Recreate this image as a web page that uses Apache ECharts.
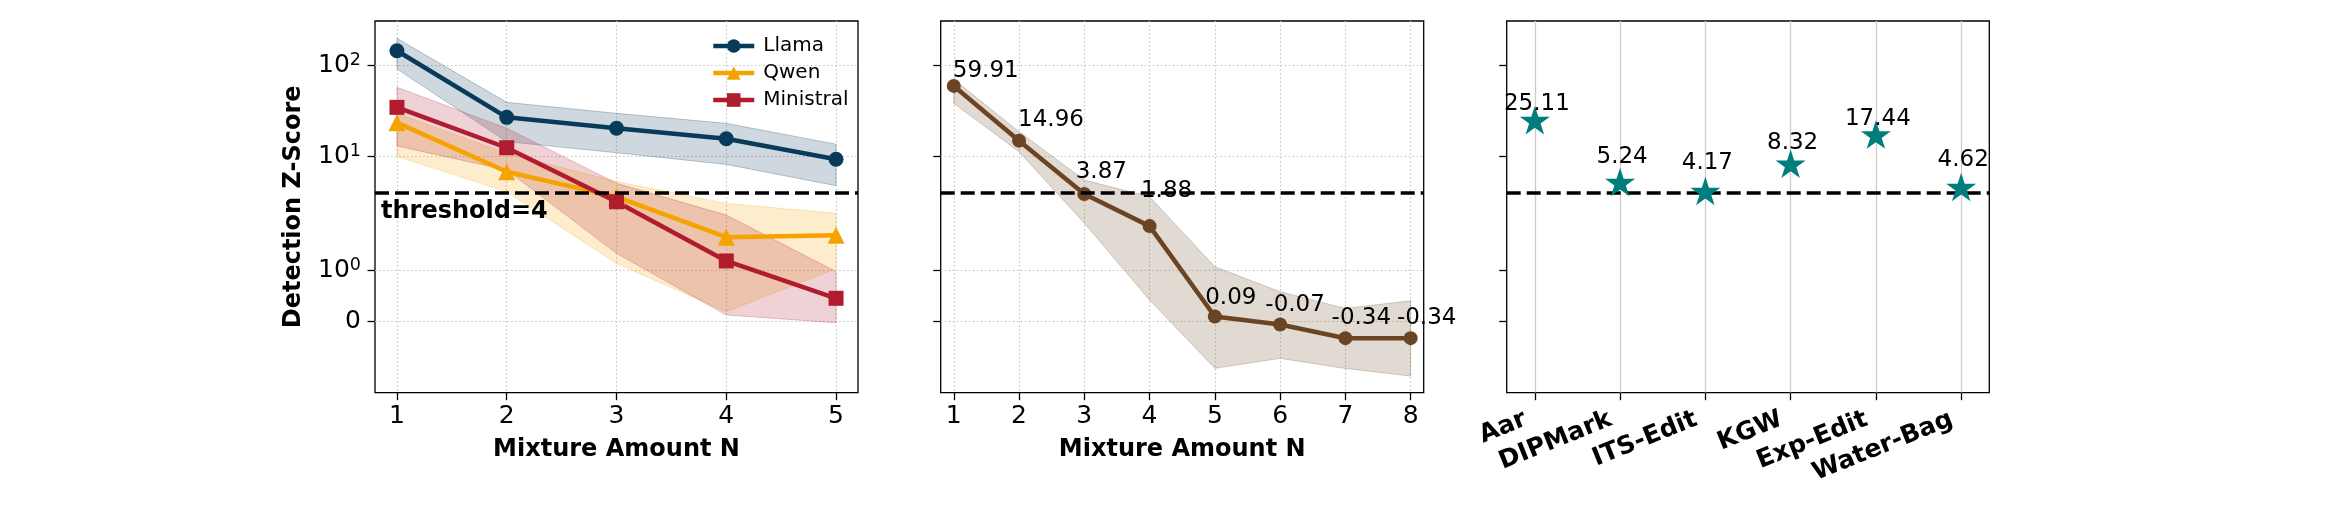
<!DOCTYPE html>
<html><head><meta charset="utf-8">
<script src="https://cdn.jsdelivr.net/npm/echarts@6/dist/echarts.min.js"></script>
<style>html,body{margin:0;padding:0;background:#fff}#c{width:2330px;height:510px}</style>
</head><body><div id="c"></div>
<script>
// ---------- data ----------
const mixtureN1 = [1, 2, 3, 4, 5];
const llama      = [146, 27.0, 20.5, 15.7, 9.33];
const llamaLo    = [91.8, 14.6, 11.0, 8.2, 4.78];
const llamaHi    = [200, 39.5, 29.9, 23.2, 13.7];
const qwen       = [23.6, 6.81, 3.6, 1.66, 1.70];
const qwenLo     = [10.1, 4.1, 1.14, 0.184, 1.04];
const qwenHi     = [29.9, 10.8, 5.3, 3.05, 2.37];
const ministral  = [34.8, 12.5, 3.18, 1.19, 0.45];
const ministralLo= [13.1, 7.1, 1.34, 0.119, -0.034];
const ministralHi= [57.8, 20.5, 5.07, 2.27, 0.98];

const mixtureN2 = [1, 2, 3, 4, 5, 6, 7, 8];
const mixScore  = [59.91, 14.96, 3.87, 1.88, 0.09, -0.07, -0.34, -0.34];
const mixLo     = [38.5, 11.3, 1.94, 0.416, -0.937, -0.74, -0.94, -1.09];
const mixHi     = [70.8, 18.8, 5.52, 3.61, 1.076, 0.58, 0.25, 0.40];

const methods      = ['Aar', 'DIPMark', 'ITS-Edit', 'KGW', 'Exp-Edit', 'Water-Bag'];
const methodScores = [25.11, 5.24, 4.17, 8.32, 17.44, 4.62];

const yTickValues = [0, 1, 10, 100];
const yTickLabels = ['{b|0}', '{b|10}{s|0}', '{b|10}{s|1}', '{b|10}{s|2}'];
const threshold = 4;

// ---------- layout (not data) ----------
const mixLabelShift = [[32, 6.7], [32, 12.4], [17, 14.3], [17, 27.4], [16, 10.7], [15, 11.7], [16, 11.7], [16, 11.7]];
const starLabelLift = [10, 18.7, 21.7, 14.7, 9, 21];

// symlog transform (linthresh 2, linscale 1, base 10)
function symlog(v) {
  const c = 2, a = 1 / (1 - 1 / 10), av = Math.abs(v);
  if (av <= c) return v * a;
  return Math.sign(v) * c * (a + Math.log10(av / c));
}
const Y_MIN = -1.578, Y_MAX = 6.604;
const FONT = 'DejaVu Sans';

const C_LLAMA = '#083a5a', C_QWEN = '#f5a300', C_MIN = '#b01c2e', C_MIX = '#6b4423', C_STAR = '#007d7d';

function rgba(hex, a) {
  const n = parseInt(hex.slice(1), 16);
  return `rgba(${(n >> 16) & 255},${(n >> 8) & 255},${n & 255},${a})`;
}

const GT = 21, GH = 371.7;
const grids = [
  { left: 375, top: GT, width: 483, height: GH },
  { left: 940.7, top: GT, width: 483, height: GH },
  { left: 1506.7, top: GT, width: 482.6, height: GH }
].map(g => Object.assign(g, { show: true, borderColor: '#000', borderWidth: 1.3, backgroundColor: 'transparent', containLabel: false, outerBoundsMode: 'none' }));

const tickStyle = { show: true, length: 7.5, lineStyle: { color: '#000', width: 1.3 } };
const dotted = { show: true, lineStyle: { color: '#c4c4c4', width: 1.2, type: [1.5, 2.5] } };

function yAxisCfg(gi, showLabels, showSplit) {
  const tv = yTickValues.map(symlog);
  return {
    type: 'value', gridIndex: gi, min: Y_MIN, max: Y_MAX,
    axisLine: { show: false, onZero: false },
    axisTick: Object.assign({ customValues: tv }, tickStyle),
    splitLine: showSplit ? dotted : { show: false },
    axisLabel: {
      show: showLabels, customValues: tv, margin: 14,
      formatter: (val) => {
        let bi = 0, bd = Infinity;
        tv.forEach((t, i) => { const d = Math.abs(t - val); if (d < bd) { bd = d; bi = i; } });
        return yTickLabels[bi];
      },
      rich: {
        b: { fontSize: 25, fontFamily: FONT, color: '#000', lineHeight: 28 },
        s: { fontSize: 17.5, fontFamily: FONT, color: '#000', lineHeight: 28, verticalAlign: 'top' }
      }
    },
    name: gi === 0 ? 'Detection Z-Score' : '',
    nameLocation: 'middle', nameGap: 69,
    nameTextStyle: { fontSize: 24, fontWeight: 'bold', fontFamily: FONT, color: '#000' }
  };
}

function xAxisNum(gi, min, max, ticks) {
  return {
    type: 'value', gridIndex: gi, min: min, max: max, position: 'bottom',
    axisLine: { show: false, onZero: false },
    axisTick: Object.assign({ customValues: ticks }, tickStyle),
    axisLabel: { customValues: ticks, margin: 11, fontSize: 25, fontFamily: FONT, color: '#000' },
    splitLine: dotted,
    name: 'Mixture Amount N', nameLocation: 'middle', nameGap: 45,
    nameTextStyle: { fontSize: 24, fontWeight: 'bold', fontFamily: FONT, color: '#000' }
  };
}

const catIdx = methods.map((m, i) => i);
const xAxes = [
  xAxisNum(0, 0.8, 5.2, mixtureN1),
  xAxisNum(1, 0.8, 8.2, mixtureN2),
  {
    type: 'value', gridIndex: 2, min: -0.33, max: 5.33, position: 'bottom',
    axisLine: { show: false, onZero: false },
    axisTick: Object.assign({ customValues: catIdx }, tickStyle),
    axisLabel: {
      customValues: catIdx, rotate: 22, margin: 22, padding: [0, 10, 0, 0],
      fontSize: 25, fontWeight: 'bold', fontFamily: FONT, color: '#000',
      formatter: (v) => methods[Math.round(v)]
    },
    splitLine: { show: true, lineStyle: { color: '#cccccc', width: 1.3, type: 'solid' } }
  }
];
const yAxes = [yAxisCfg(0, true, true), yAxisCfg(1, false, true), yAxisCfg(2, false, false)];

function bandSeries(xs, lo, hi, color, gi) {
  return {
    type: 'custom', xAxisIndex: gi, yAxisIndex: gi, z: 1, silent: true, clip: false,
    data: [[xs[0], symlog(hi[0])]],
    renderItem: (params, api) => {
      const pts = [];
      for (let i = 0; i < xs.length; i++) pts.push(api.coord([xs[i], symlog(hi[i])]));
      for (let i = xs.length - 1; i >= 0; i--) pts.push(api.coord([xs[i], symlog(lo[i])]));
      return { type: 'polygon', shape: { points: pts }, style: { fill: rgba(color, 0.2), stroke: rgba(color, 0.25), lineWidth: 1 } };
    }
  };
}

function lineSeries(name, xs, vals, color, symbol, size, gi) {
  return {
    name: name, type: 'line', xAxisIndex: gi, yAxisIndex: gi, z: 3,
    data: xs.map((x, i) => [x, symlog(vals[i]), vals[i]]),
    symbol: symbol, symbolSize: size, showSymbol: true,
    lineStyle: { color: color, width: 4.5 },
    itemStyle: { color: color, borderWidth: 0, opacity: 1 },
    emphasis: { disabled: true }, animation: false
  };
}

function thresholdLine(gi, withLabel, z) {
  return {
    type: 'line', xAxisIndex: gi, yAxisIndex: gi, data: [], z: z, silent: true,
    markLine: {
      silent: true, symbol: 'none', animation: false, z: z,
      lineStyle: { color: '#000', width: 3.5, type: [14, 6] },
      label: withLabel ? {
        show: true, position: 'insideStartBottom', formatter: 'threshold=4', distance: [6, 7],
        fontSize: 24, fontWeight: 'bold', fontFamily: FONT, color: '#000'
      } : { show: false },
      data: [{ yAxis: symlog(threshold) }]
    }
  };
}

const starPath = 'path://M100,0 L122.45,69.1 L195.1,69.1 L136.33,111.8 L158.8,180.9 L100,138.2 L41.2,180.9 L63.67,111.8 L4.9,69.1 L77.55,69.1 Z';

const series = [
  bandSeries(mixtureN1, llamaLo, llamaHi, C_LLAMA, 0),
  bandSeries(mixtureN1, qwenLo, qwenHi, C_QWEN, 0),
  bandSeries(mixtureN1, ministralLo, ministralHi, C_MIN, 0),
  lineSeries('Llama', mixtureN1, llama, C_LLAMA, 'circle', 15, 0),
  lineSeries('Qwen', mixtureN1, qwen, C_QWEN, 'triangle', 17, 0),
  lineSeries('Ministral', mixtureN1, ministral, C_MIN, 'rect', 15, 0),
  thresholdLine(0, true, 5),
  bandSeries(mixtureN2, mixLo, mixHi, C_MIX, 1),
  Object.assign(lineSeries('mix', mixtureN2, mixScore, C_MIX, 'circle', 14, 1), {
    data: mixtureN2.map((x, i) => ({
      value: [x, symlog(mixScore[i]), mixScore[i]],
      label: { offset: [mixLabelShift[i][0], 10.5 - mixLabelShift[i][1]] }
    })),
    label: {
      show: true, position: 'top', distance: 0, fontSize: 23, fontFamily: FONT, color: '#000',
      formatter: (p) => p.value[2].toFixed(2)
    }
  }),
  thresholdLine(1, false, 5),
  thresholdLine(2, false, 2),
  {
    type: 'scatter', xAxisIndex: 2, yAxisIndex: 2, z: 3,
    symbol: starPath, symbolSize: 30, symbolKeepAspect: true,
    itemStyle: { color: C_STAR, opacity: 1 },
    data: methodScores.map((v, i) => ({
      value: [i, symlog(v), v],
      label: { offset: [2, 19.5 - starLabelLift[i]] }
    })),
    label: {
      show: true, position: 'top', distance: 0, fontSize: 23, fontFamily: FONT, color: '#000',
      formatter: (p) => p.value[2].toFixed(2)
    },
    emphasis: { disabled: true }, animation: false
  }
];

const chart = echarts.init(document.getElementById('c'), null, { renderer: 'canvas' });
chart.setOption({
  animation: false,
  backgroundColor: '#fff',
  textStyle: { fontFamily: FONT },
  grid: grids,
  xAxis: xAxes,
  yAxis: yAxes,
  legend: {
    data: ['Llama', 'Qwen', 'Ministral'],
    orient: 'vertical', left: 706, top: 31,
    itemWidth: 41, itemHeight: 17, itemGap: 7,
    lineStyle: { width: 4.5 },
    textStyle: { fontSize: 20, fontFamily: FONT, color: '#000', padding: [0, 0, 0, 4] },
    selectedMode: false
  },
  series: series
});
</script>
</body></html>
